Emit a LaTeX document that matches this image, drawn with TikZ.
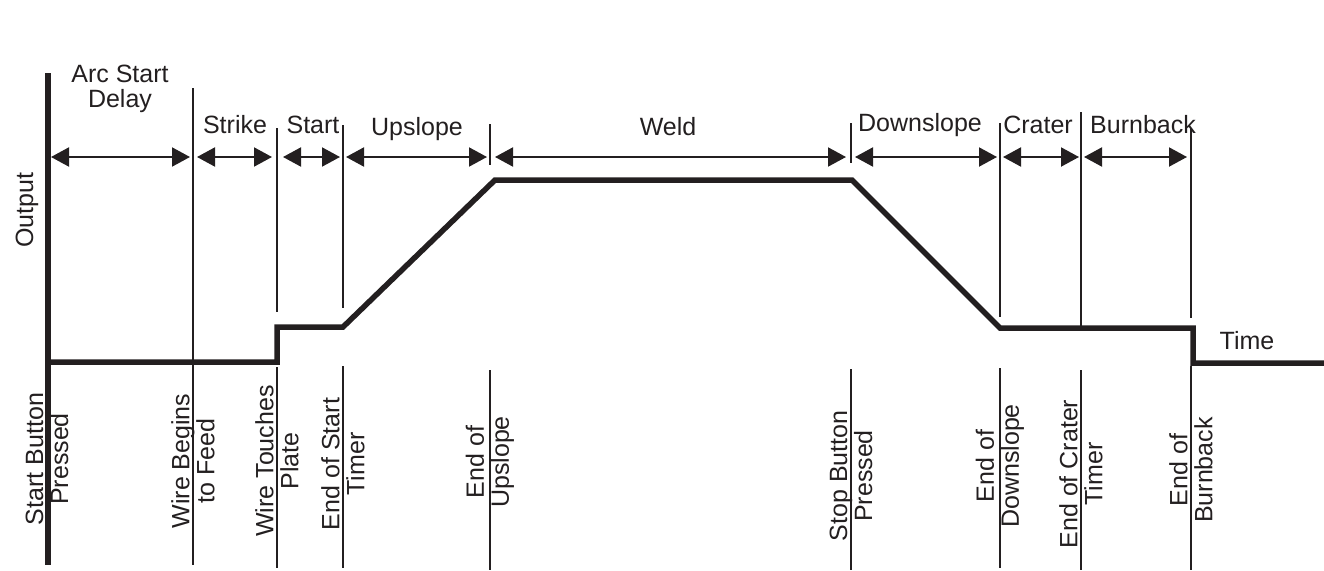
\documentclass[tikz,border=0pt]{standalone}
\usepackage{fontspec}
\setmainfont{Liberation Sans}
\usetikzlibrary{arrows.meta}
\definecolor{ink}{HTML}{231F20}

\begin{document}
\begin{tikzpicture}[x=1pt,y=-1pt,ink,font=\fontsize{25}{25}\selectfont,
  span/.style={{Triangle[length=18pt,width=19pt]}-{Triangle[length=18pt,width=19pt]},line width=2pt},
  event/.style={line width=2.7pt},
  signal/.style={line width=5.5pt,line join=miter},
  lbl/.style={rotate=90,align=center,inner sep=0pt}]
  \useasboundingbox (0,0) rectangle (1324,570);

  % event times on the arrow row
  \coordinate (press) at (47,157);
  \coordinate (feed) at (193,157);
  \coordinate (touch) at (277,157);
  \coordinate (endstart) at (343,157);
  \coordinate (endup) at (490,157);
  \coordinate (stop) at (851,157);
  \coordinate (enddown) at (1000,157);
  \coordinate (endcrater) at (1081,157);
  \coordinate (endburn) at (1191,157);

  % axis and output signal
  \draw[line width=5.5pt] (48,73) -- (48,565);
  \draw[signal] (47,362) -- (277,362) -- (277,327) -- (343,327) -- (495,180)
    -- (852,180) -- (1000,328) -- (1193,328) -- (1193,363) -- (1324,363);
  \node[rotate=90,anchor=base] (output) at (33,210) {Output};
  \node[anchor=base] (time) at (1247,349) {Time};

  % event lines
  \draw[event] (193,88) -- (193,565);
  \draw[event] (277,128) -- (277,312) (277,367) -- (277,568);
  \draw[event] (343,125) -- (343,308) (343,366) -- (343,568);
  \draw[event] (490,124) -- (490,165) (490,370) -- (490,570);
  \draw[event] (851,123) -- (851,163) (851,369) -- (851,570);
  \draw[event] (1000,123) -- (1000,317) (1000,368) -- (1000,568);
  \draw[event] (1081,112) -- (1081,327) (1081,370) -- (1081,570);
  \draw[event] (1191,128) -- (1191,318) (1191,366) -- (1191,570);

  % phases
  \draw[span] ([xshift=4pt]press) -- ([xshift=-3pt]feed);
  \draw[span] ([xshift=4pt]feed) -- ([xshift=-5pt]touch);
  \draw[span] ([xshift=6pt]touch) -- ([xshift=-3pt]endstart);
  \draw[span] ([xshift=3pt]endstart) -- ([xshift=-3pt]endup);
  \draw[span] ([xshift=5pt]endup) -- ([xshift=-5pt]stop);
  \draw[span] ([xshift=4pt]stop) -- ([xshift=-3pt]enddown);
  \draw[span] ([xshift=3pt]enddown) -- ([xshift=-2pt]endcrater);
  \draw[span] ([xshift=3pt]endcrater) -- ([xshift=-4pt]endburn);

  \node[anchor=base,align=center] (delay) at (120,107) {Arc Start\\Delay};
  \node[anchor=base] (strike) at (235,133) {Strike};
  \node[anchor=base] (start) at (313,133) {Start};
  \node[anchor=base] (upslope) at (417,135) {Upslope};
  \node[anchor=base] (weld) at (668,135) {Weld};
  \node[anchor=base] (downslope) at (920,131) {Downslope};
  \node[anchor=base] (crater) at (1038,133) {Crater};
  \node[anchor=base] (burnback) at (1143,133) {Burnback};

  % event names
  \node[lbl] (lpress) at (47,459) {Start Button\\Pressed};
  \node[lbl] (lfeed) at (193,461) {Wire Begins\\to Feed};
  \node[lbl] (ltouch) at (277,461) {Wire Touches\\Plate};
  \node[lbl] (lendstart) at (343,464) {End of Start\\Timer};
  \node[lbl] (lendup) at (490,462) {End of\\Upslope};
  \node[lbl] (lstop) at (851,476) {Stop Button\\Pressed};
  \node[lbl] (lenddown) at (1000,466) {End of\\Downslope};
  \node[lbl] (lendcrater) at (1081,474) {End of Crater\\Timer};
  \node[lbl] (lendburn) at (1191,470) {End of\\Burnback};
\end{tikzpicture}
\end{document}
